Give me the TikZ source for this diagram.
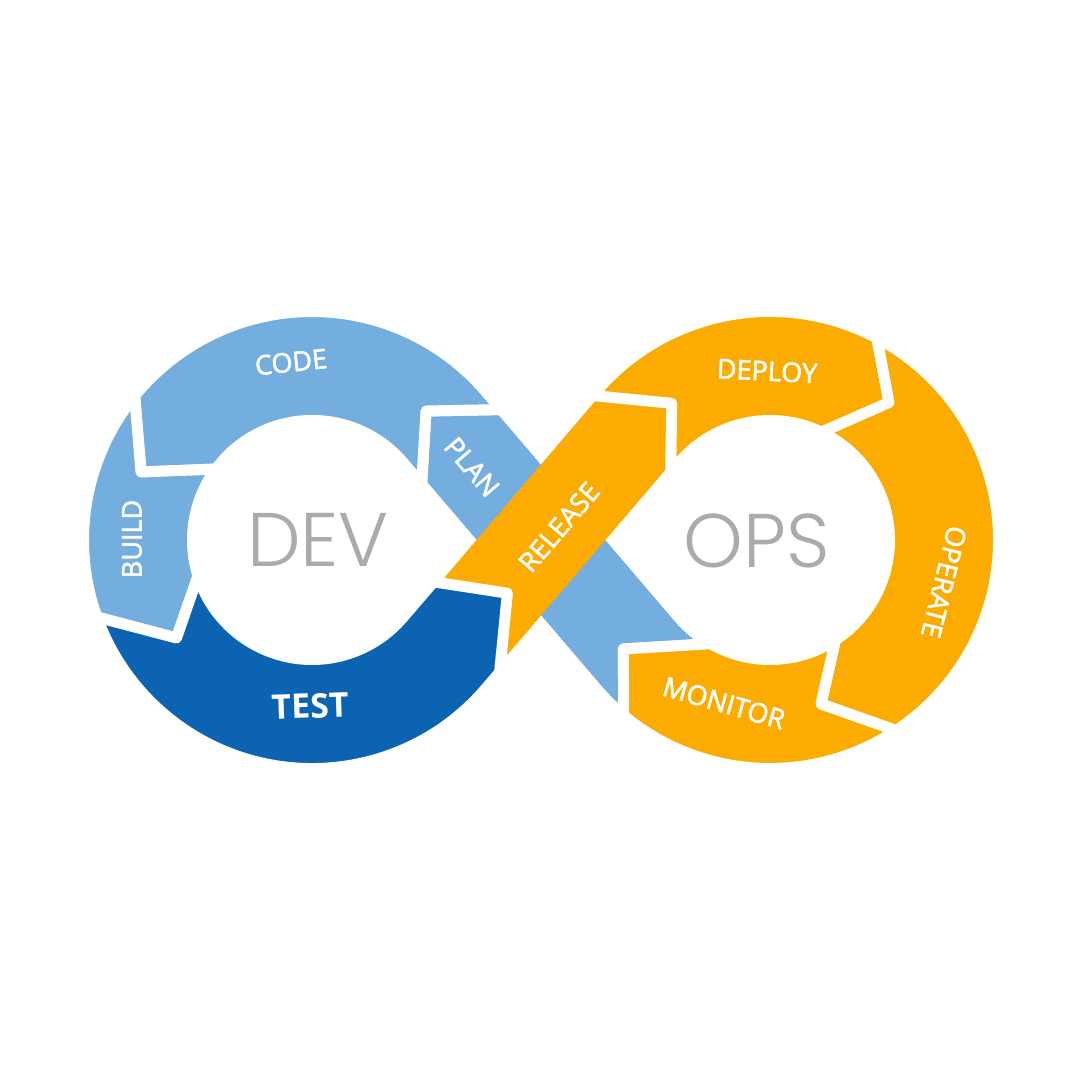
\documentclass[tikz,border=0pt]{standalone}
\usepackage{fontspec}
\setmainfont{Open Sans}
\newfontfamily\lblfont{Open Sans}[FakeBold=2]
\newfontfamily\bigfont{Poppins}[UprightFont={* Light}]
\usetikzlibrary{calc}
\definecolor{lblue}{HTML}{74AEDE}
\definecolor{dblue}{HTML}{0C63B1}
\definecolor{orng}{HTML}{FCAC00}
\definecolor{greyt}{HTML}{ABABAB}
\begin{document}
\begin{tikzpicture}[x=1pt,y=1pt,
  seg/.style={draw=white, line width=11pt, line join=round},
  lbl/.style={text=white, font=\lblfont\fontsize{27}{27}\selectfont, inner sep=0pt},
  big/.style={text=greyt, font=\bigfont\fontsize{76}{76}\selectfont, inner sep=0pt}]
\useasboundingbox (0,0) rectangle (1080,1080);
\fill[white] (0,0) rectangle (1080,1080);
\coordinate (L) at (312,540);
\coordinate (R) at (770,540);
% RELEASE band frame
\begin{scope}[shift={(541,540)}, rotate=49.5]
 \coordinate (rTl) at (-148.7,54.5);
 \coordinate (rTr) at (-148.7,-54.5);
 \coordinate (rHl) at (148.7,54.5);
 \coordinate (rHr) at (148.7,-54.5);
 \coordinate (j4l) at (-101.6,54.5);
 \coordinate (j4r) at (-127.6,-54.5);
 \coordinate (j5l) at (143.4,54.5);
 \coordinate (j5r) at (135.9,-54.5);
\end{scope}
% blue band frame
\begin{scope}[shift={(541,540)}, rotate=130.5]
 \coordinate (bLl) at (148.7,54.5);
 \coordinate (bLr) at (148.7,-54.5);
 \coordinate (bRl) at (-148.7,54.5);
 \coordinate (bRr) at (-148.7,-54.5);
 \coordinate (j1l) at (120,54.5);
 \coordinate (j1r) at (125,-54.5);
\end{scope}
% chevron tips (centre of the white gaps)
\coordinate (j1m) at (426,669);
\coordinate (j2m) at (141,608);
\coordinate (j3m) at (176.5,442);
\coordinate (j4m) at (507.4,486.8);
\coordinate (j5m) at (671.7,676.7);
\coordinate (j6m) at (889,677.5);
\coordinate (j7m) at (821,376);
\coordinate (j8m) at (623.3,431);
% blue band (MONITOR -> PLAN)
\filldraw[seg, fill=lblue] ($(R)+(230.2:228.5)$) arc[start angle=230.2, end angle=220.5, radius=228.5]
  -- (j1l) -- (j1m) -- (j1r) -- (bRr) arc[start angle=220.5, end angle=240.2, radius=119.5] -- (j8m) -- cycle;
% RELEASE band
\begin{scope}[shift={(541,540)}, rotate=49.5]
 \clip (-200,-49) rectangle (250,49);
 \fill[orng] (j4l) -- (j5l) -- (j5m) -- (j5r) -- (j4r) -- (j4m) -- cycle;
\end{scope}
% CODE
\filldraw[seg, fill=lblue] (j1l) -- (bLl) arc[start angle=40.5, end angle=143.6, radius=119.5]
  -- (j2m) -- ($(L)+(140.9:228.5)$) arc[start angle=140.9, end angle=40.5, radius=228.5] -- (j1r) -- (j1m) -- cycle;
% BUILD
\filldraw[seg, fill=lblue] ($(L)+(143.6:119.5)$) arc[start angle=143.6, end angle=197.5, radius=119.5]
  -- (j3m) -- ($(L)+(199.7:228.5)$) arc[start angle=199.7, end angle=140.9, radius=228.5] -- (j2m) -- cycle;
% TEST
\filldraw[seg, fill=dblue] ($(L)+(197.5:119.5)$) arc[start angle=197.5, end angle=319.5, radius=119.5]
  -- (j4l) -- (j4m) -- (j4r) -- (rTr) arc[start angle=319.5, end angle=199.7, radius=228.5] -- (j3m) -- cycle;
% DEPLOY
\filldraw[seg, fill=orng] (j5l) -- (rHl) arc[start angle=139.5, end angle=62.1, radius=228.5]
  -- (j6m) -- ($(R)+(64.4:119.5)$) arc[start angle=64.4, end angle=139.5, radius=119.5] -- (j5r) -- (j5m) -- cycle;
% OPERATE
\filldraw[seg, fill=orng] ($(R)+(62.1:228.5)$) arc[start angle=62.1, end angle=-56.5, radius=228.5]
  -- (j7m) -- ($(R)+(-56.8:119.5)$) arc[start angle=-56.8, end angle=64.4, radius=119.5] -- (j6m) -- cycle;
% MONITOR
\filldraw[seg, fill=orng] ($(R)+(-56.5:228.5)$) arc[start angle=-56.5, end angle=-129.8, radius=228.5]
  -- (j8m) -- ($(R)+(-119.8:119.5)$) arc[start angle=-119.8, end angle=-56.8, radius=119.5] -- (j7m) -- cycle;
% labels
\node[lbl, rotate=6] (code) at (291,718) {CODE};
\node[lbl, rotate=90] (build) at (132,541) {BUILD};
\node[lbl, rotate=2, font=\bfseries\fontsize{34}{34}\selectfont] (test) at (310,374) {TEST};
\node[lbl, rotate=-49.5] (plan) at (472,613) {PLAN};
\node[lbl, rotate=49.5] (release) at (559,553) {RELEASE};
\node[lbl, rotate=-3] (deploy) at (767,709) {DEPLOY};
\node[lbl, rotate=-104] (operate) at (944,498) {OPERATE};
\node[lbl, rotate=-16] (monitor) at (724,377) {MONITOR};
\node[big] (dev) at (318,540) {DEV};
\node[big] (ops) at (757,539) {OPS};
\end{tikzpicture}
\end{document}
